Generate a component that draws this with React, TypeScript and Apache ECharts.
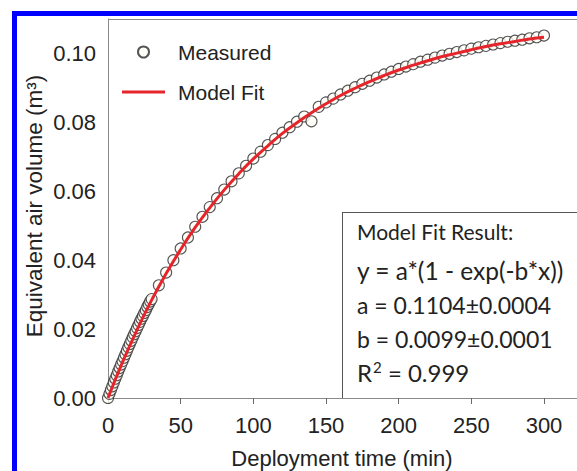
import React, { useEffect, useRef } from "react";
import * as echarts from "echarts";

const measuredTime = [
  0, 1, 2, 3, 4, 5, 6, 7, 8, 9, 10, 11, 12, 13, 14, 15, 16, 17, 18, 19, 20,
  21, 22, 23, 24, 25, 26, 27, 28, 29, 30, 35, 40, 45, 50, 55, 60, 65, 70, 75,
  80, 85, 90, 95, 100, 105, 110, 115, 120, 125, 130, 135, 140, 145, 150, 155,
  160, 165, 170, 175, 180, 185, 190, 195, 200, 205, 210, 215, 220, 225, 230,
  235, 240, 245, 250, 255, 260, 265, 270, 275, 280, 285, 290, 295, 300,
];
const measuredVolume = [
  0.0, 0.0012, 0.0023, 0.0034, 0.0045, 0.0056, 0.0066, 0.0077, 0.0087, 0.0097,
  0.0107, 0.0117, 0.0127, 0.0137, 0.0147, 0.0157, 0.0166, 0.0176, 0.0185,
  0.0194, 0.0203, 0.0212, 0.0221, 0.023, 0.0238, 0.0247, 0.0255, 0.0264,
  0.0272, 0.028, 0.0287, 0.0327, 0.0364, 0.04, 0.0434, 0.0466, 0.0497, 0.0526,
  0.0554, 0.058, 0.0605, 0.0629, 0.0652, 0.0674, 0.0695, 0.0715, 0.0734,
  0.0752, 0.077, 0.0786, 0.0802, 0.0817, 0.0803, 0.0845, 0.0858, 0.0869,
  0.0881, 0.0892, 0.0902, 0.0912, 0.0921, 0.093, 0.0939, 0.0947, 0.0955,
  0.0962, 0.0969, 0.0976, 0.0982, 0.0988, 0.0994, 0.0999, 0.1004, 0.1009,
  0.1014, 0.1018, 0.1022, 0.1026, 0.103, 0.1034, 0.1037, 0.104, 0.1044,
  0.1047, 0.1052,
];

const fitTime = [
  0, 10, 20, 30, 40, 50, 60, 70, 80, 90, 100, 110, 120, 130, 140, 150, 160,
  170, 180, 190, 200, 210, 220, 230, 240, 250, 260, 270, 280, 290, 300,
];
const fitVolume = [
  0.0, 0.0104, 0.0198, 0.0284, 0.0361, 0.0431, 0.0495, 0.0552, 0.0604, 0.0651,
  0.0694, 0.0732, 0.0768, 0.0799, 0.0828, 0.0854, 0.0878, 0.0899, 0.0918,
  0.0936, 0.0952, 0.0966, 0.0979, 0.0991, 0.1001, 0.1011, 0.102, 0.1028,
  0.1035, 0.1042, 0.1047,
];

const xTicks = [0, 50, 100, 150, 200, 250, 300];
const yTicks = [0, 0.02, 0.04, 0.06, 0.08, 0.1];

const legendNames = ["Measured", "Model Fit"];
const fitResultTitle = "Model Fit Result:";
const fitResultLines = [
  "y = a*(1 - exp(-b*x))",
  "a = 0.1104±0.0004",
  "b = 0.0099±0.0001",
];
const rSquaredText = "{t|R}{s|2}{t| = 0.999}";
const xTitle = "Deployment time (min)";
const yTitle = "Equivalent air volume (m³)";

const FONT = "'Liberation Sans', Arial, Helvetica, sans-serif";
const BOX_FONT = "Lato, 'Open Sans', sans-serif";

export default function App() {
  const ref = useRef<HTMLDivElement>(null);

  useEffect(() => {
    if (!ref.current) return;
    const chart = echarts.init(ref.current, null, { renderer: "svg" });
    const lineY = [270, 305, 339];
    const lineSize = [24.5, 23, 23];
    const AX = "#8a8a8a";
    const RED = "#e6242b";
    const option: any = {
      animation: false,
      backgroundColor: "#ffffff",
      textStyle: { fontFamily: FONT },
      grid: {
        left: 108,
        top: 19,
        right: 0,
        bottom: 73,
        show: false,
        outerBoundsMode: "none",
        containLabel: false,
      },
      legend: {
        data: [
          { name: legendNames[0], icon: "circle" },
          { name: legendNames[1], icon: "path://M0,0H43V3H0Z" },
        ],
        orient: "vertical",
        left: 122,
        top: 41,
        padding: 0,
        itemWidth: 43,
        itemHeight: 11,
        itemGap: 18,
        selectedMode: false,
        textStyle: {
          fontFamily: FONT,
          fontSize: 21,
          color: "#222",
          lineHeight: 22,
          padding: [0, 0, 0, 8],
        },
      },
      xAxis: {
        type: "value",
        min: 0,
        max: 322.7,
        axisLine: { show: true, lineStyle: { color: AX, width: 1 } },
        axisTick: {
          show: true,
          length: 6,
          customValues: xTicks,
          lineStyle: { color: "#6a6a6a" },
        },
        axisLabel: {
          fontFamily: FONT,
          fontSize: 22,
          color: "#222",
          margin: 16,
          customValues: xTicks,
        },
        splitLine: { show: false },
      },
      yAxis: {
        type: "value",
        min: 0,
        max: 0.11,
        axisLine: { show: true, lineStyle: { color: AX, width: 1 } },
        axisTick: { show: false },
        axisLabel: {
          fontFamily: FONT,
          fontSize: 22,
          color: "#222",
          margin: 12,
          customValues: yTicks,
          formatter: (v: number) => v.toFixed(2),
        },
        splitLine: { show: false },
      },
      series: [
        {
          type: "scatter",
          name: legendNames[0],
          data: measuredTime.map((t, i) => [t, measuredVolume[i]]),
          symbol: "circle",
          symbolSize: 11,
          itemStyle: { color: "#fffef7", borderColor: "#2a2a2a", borderWidth: 1.1 },
          z: 2,
        },
        {
          type: "line",
          name: legendNames[1],
          data: fitTime.map((t, i) => [t, fitVolume[i]]),
          smooth: true,
          symbol: "none",
          showSymbol: false,
          lineStyle: { color: RED, width: 3 },
          itemStyle: { color: RED },
          z: 3,
        },
      ],
      graphic: [
        { type: "rect", shape: { x: 12, y: 11, width: 565, height: 5 }, style: { fill: "#0000ff" }, z: 10 },
        { type: "rect", shape: { x: 12, y: 11, width: 5, height: 460 }, style: { fill: "#0000ff" }, z: 10 },
        { type: "line", shape: { x1: 108, y1: 19.5, x2: 577, y2: 19.5 }, style: { stroke: AX, lineWidth: 1 }, z: 5 },
        { type: "line", shape: { x1: 342.5, y1: 212, x2: 342.5, y2: 398 }, style: { stroke: "#555", lineWidth: 1 }, z: 5 },
        { type: "line", shape: { x1: 342, y1: 212.5, x2: 577, y2: 212.5 }, style: { stroke: "#555", lineWidth: 1 }, z: 5 },
        {
          type: "text",
          x: 357,
          y: 231,
          style: {
            text: fitResultTitle,
            fontFamily: BOX_FONT,
            fontSize: 21,
            fill: "#222",
            align: "left",
            verticalAlign: "middle",
          },
          z: 6,
        },
        ...fitResultLines.map((t, i) => ({
          type: "text",
          x: 357,
          y: lineY[i],
          style: {
            text: t,
            fontFamily: BOX_FONT,
            fontSize: lineSize[i],
            fill: "#222",
            align: "left",
            verticalAlign: "middle",
          },
          z: 6,
        })),
        {
          type: "text",
          x: 357,
          y: 372,
          style: {
            text: rSquaredText,
            align: "left",
            verticalAlign: "middle",
            rich: {
              t: { fontFamily: BOX_FONT, fontSize: 24, fill: "#222", color: "#222", lineHeight: 26 },
              s: {
                fontFamily: BOX_FONT,
                fontSize: 15,
                fill: "#222",
                color: "#222",
                lineHeight: 26,
                verticalAlign: "top",
                padding: [0, 0, 8, 1],
              },
            },
          },
          z: 6,
        },
        {
          type: "text",
          x: 342,
          y: 458,
          style: {
            text: xTitle,
            fontFamily: FONT,
            fontSize: 22,
            fill: "#222",
            align: "center",
            verticalAlign: "middle",
          },
        },
        {
          type: "text",
          x: 34,
          y: 206,
          rotation: Math.PI / 2,
          style: {
            text: yTitle,
            fontFamily: FONT,
            fontSize: 22.5,
            fill: "#222",
            align: "center",
            verticalAlign: "middle",
          },
        },
      ],
    };
    chart.setOption(option);
    return () => chart.dispose();
  }, []);

  return (
    <div
      ref={ref}
      style={{ position: "fixed", left: 0, top: 0, width: 577, height: 471, background: "#fff" }}
    />
  );
}
